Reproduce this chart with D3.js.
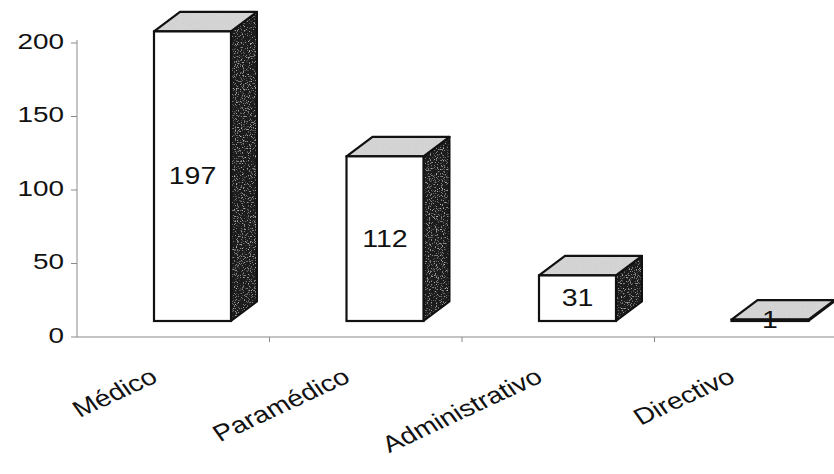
<!DOCTYPE html>
<html>
<head>
<meta charset="utf-8">
<script src="https://cdn.jsdelivr.net/npm/d3@7"></script>
<style>
  html, body { margin: 0; padding: 0; background: #fff; }
  svg { display: block; }
  text { font-family: "Liberation Sans", Arial, sans-serif; fill: #111; }
</style>
</head>
<body>
<svg id="chart" width="834" height="474"></svg>
<script>
// Personal por categoría
const categories = ["Médico", "Paramédico", "Administrativo", "Directivo"];
const values = [197, 112, 31, 1];
const yTicks = [0, 50, 100, 150, 200];

const W = 834, H = 474;
const svg = d3.select("#chart");
const stretch = 1.24;             // horizontal text scale
const depthX = 26, depthY = -19.5; // 3D bar depth offset
const floorLift = 16;             // front faces sit above the axis line

const x = d3.scaleBand().domain(categories).range([77, 847]).paddingInner(0).paddingOuter(0);
const y = d3.scaleLinear().domain([0, 200]).range([337, 43]);

// Speckle textures for the shaded faces
const defs = svg.append("defs");
function speckle(id, grey, slope, offset, seed) {
  const f = defs.append("filter").attr("id", id).attr("x", 0).attr("y", 0).attr("width", 1).attr("height", 1);
  f.append("feTurbulence").attr("type", "fractalNoise").attr("baseFrequency", 0.85)
    .attr("numOctaves", 2).attr("seed", seed).attr("result", "n");
  f.append("feColorMatrix").attr("in", "n").attr("type", "matrix")
    .attr("values", `0 0 0 0 ${grey}  0 0 0 0 ${grey}  0 0 0 0 ${grey}  0 0 0 ${slope} ${offset}`)
    .attr("result", "speck");
  f.append("feComposite").attr("in", "speck").attr("in2", "SourceGraphic").attr("operator", "atop");
}
speckle("grainDark", 0.5, 4, -2.3, 5);
speckle("grainLight", 0.6, 3, -1.6, 9);

// Axes
const axisColor = "#8a8a8a";
const gy = svg.append("g");
gy.append("line").attr("x1", x.range()[0]).attr("x2", x.range()[0])
  .attr("y1", y(0)).attr("y2", y(200) - 3)
  .attr("stroke", axisColor).attr("stroke-width", 1);
gy.selectAll("line.tick").data(yTicks).join("line").attr("class", "tick")
  .attr("x1", 71).attr("x2", 77).attr("y1", d => y(d)).attr("y2", d => y(d))
  .attr("stroke", axisColor).attr("stroke-width", 1);
gy.selectAll("text").data(yTicks).join("text")
  .attr("transform", d => `translate(64,${y(d) - 2}) scale(${stretch},1)`)
  .attr("text-anchor", "end").attr("dominant-baseline", "central")
  .attr("font-size", 22.5).text(d => d);

const gx = svg.append("g");
gx.append("line").attr("x1", x.range()[0]).attr("x2", W).attr("y1", y(0)).attr("y2", y(0))
  .attr("stroke", axisColor).attr("stroke-width", 1.2);
gx.selectAll("line.tick").data(categories.slice(1)).join("line").attr("class", "tick")
  .attr("x1", d => x(d)).attr("x2", d => x(d)).attr("y1", y(0)).attr("y2", y(0) + 5)
  .attr("stroke", axisColor).attr("stroke-width", 1);
gx.selectAll("text").data(categories).join("text")
  .attr("transform", d => `translate(${x(d) + x.bandwidth() / 2 - 14},381) scale(${stretch},1) rotate(-30)`)
  .attr("text-anchor", "end").attr("font-size", 23).text(d => d);

// Bars
const bw = x.bandwidth() * 0.4;
const bars = svg.append("g").selectAll("g").data(categories.map((c, i) => ({ c, v: values[i] }))).join("g");

bars.each(function (d) {
  const g = d3.select(this);
  const x0 = x(d.c) + x.bandwidth() * 0.4, x1 = x0 + bw;
  const yb = y(0) - floorLift, yt = y(d.v) - floorLift;
  const side = `M${x1},${yb} L${x1 + depthX},${yb + depthY} L${x1 + depthX},${yt + depthY} L${x1},${yt} Z`;
  const top = `M${x0},${yt} L${x0 + depthX},${yt + depthY} L${x1 + depthX},${yt + depthY} L${x1},${yt} Z`;
  // side face
  g.append("path").attr("d", side).attr("fill", "#1a1a1a").attr("filter", "url(#grainDark)");
  g.append("path").attr("d", side).attr("fill", "none").attr("stroke", "#111")
    .attr("stroke-width", 2).attr("stroke-linejoin", "round");
  // top face
  g.append("path").attr("d", top).attr("fill", "#d4d4d4").attr("filter", "url(#grainLight)");
  g.append("path").attr("d", top).attr("fill", "none").attr("stroke", "#111")
    .attr("stroke-width", 2.2).attr("stroke-linejoin", "round");
  // front face
  g.append("rect").attr("x", x0).attr("y", yt).attr("width", bw).attr("height", yb - yt)
    .attr("fill", "#fff").attr("stroke", "#111").attr("stroke-width", 2.2);
  // value label
  g.append("text")
    .attr("transform", `translate(${x0 + bw / 2},${(yt + yb) / 2}) scale(${stretch},1)`)
    .attr("text-anchor", "middle").attr("dominant-baseline", "central")
    .attr("font-size", 23).text(d.v);
});
</script>
</body>
</html>
